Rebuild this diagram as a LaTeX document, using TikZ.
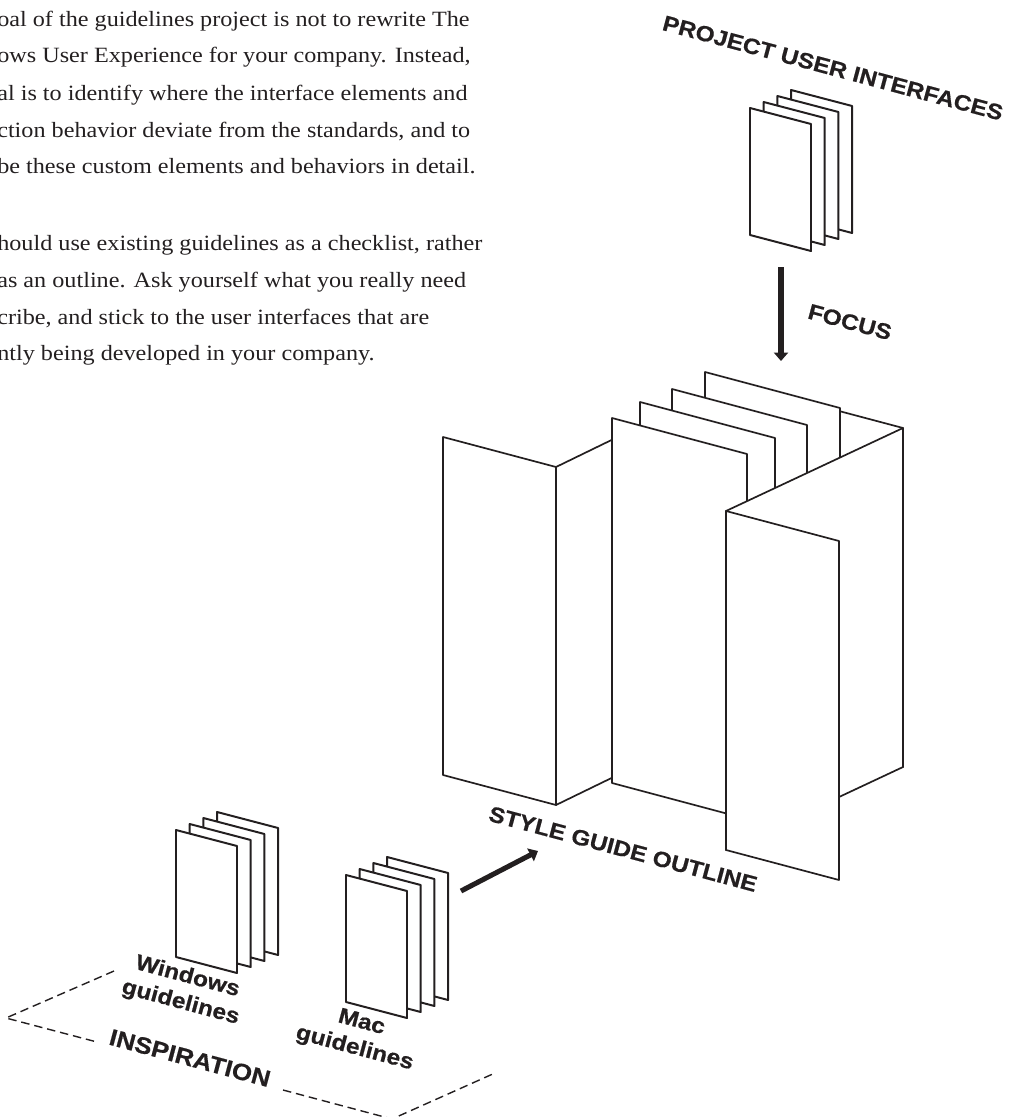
\documentclass[tikz,border=0pt]{standalone}
\usepackage{fontspec}
\setmainfont{Liberation Serif}[FakeStretch=1.11]
\newfontfamily\labelfont{Liberation Sans}[FakeStretch=1.12, BoldFeatures={FakeBold=0.6}]
\usetikzlibrary{arrows.meta}
\definecolor{ink}{HTML}{231F20}
\tikzset{
  sheet/.style={draw=ink, fill=white, line width=1.2pt},
  bodyline/.style={anchor=base west, inner sep=0pt, text=ink, font=\fontsize{15.5}{18}\selectfont},
  tag/.style={text=ink, font=\labelfont\bfseries\fontsize{15.5}{19}\selectfont, rotate=-15, align=center, inner sep=0pt},
  flow/.style={draw=ink, line width=3.6pt, -{Triangle[width=10pt,length=6pt]}},
  bracket/.style={draw=ink, line width=1pt, dash pattern=on 6pt off 3.5pt},
}
% four thin pages, back to front, front page top-left at #1,#2
\newcommand{\pagestack}[2]{%
  \foreach \k in {3,2,1,0}
    \draw[sheet, line width=1.4pt] ({#1+13.7*\k},{#2-6*\k}) -- ++(61,16) -- ++(0,127) -- ++(-61,-16) -- cycle;
}
\begin{document}
\begin{tikzpicture}[x=0.025cm, y=-0.025cm, line join=round]
  \useasboundingbox (0,0) rectangle (1016,1117);
  % Text column (cut off at the left)
  \node[bodyline] (line1) at (-3,27) {oal of the guidelines project is not to rewrite The};
  \node[bodyline] (line2) at (-3,63) {ows User Experience for your company. Instead,};
  \node[bodyline] (line3) at (-3,100) {al is to identify where the interface elements and};
  \node[bodyline] (line4) at (-3,137) {ction behavior deviate from the standards, and to};
  \node[bodyline] (line5) at (-3,173) {be these custom elements and behaviors in detail.};
  \node[bodyline] (line6) at (-3,250) {hould use existing guidelines as a checklist, rather};
  \node[bodyline] (line7) at (-3,287) {as an outline. Ask yourself what you really need};
  \node[bodyline] (line8) at (-3,324) {cribe, and stick to the user interfaces that are};
  \node[bodyline] (line9) at (-3,360) {ntly being developed in your company.};
  % Project user interfaces
  \pagestack{750}{108}
  \node[tag] (pui) at (833,68) {PROJECT USER INTERFACES};
  % Focus arrow
  \coordinate (puiOut) at (781,267);
  \coordinate (sgoTop) at (781,361);
  \draw[flow] (puiOut) -- (sgoTop);
  \node[tag] (focus) at (850,322) {FOCUS};
  % Style guide outline: left fold, back page, middle pages, right fold
  \draw[sheet] (443,437) -- (556,467) -- (556,805) -- (443,775) -- cycle;
  \draw[sheet] (556,467) -- (630,431) -- (630,769) -- (556,805) -- cycle;
  \draw[sheet] (790,398) -- (903,428) -- (903,767) -- (790,737) -- cycle;
  \foreach \sx/\sy in {705/372, 672/389, 640/402, 612/418}
    \draw[sheet] (\sx,\sy) -- ++(135,36) -- ++(0,365) -- ++(-135,-36) -- cycle;
  \draw[sheet] (726,511) -- (903,428) -- (903,767) -- (726,850) -- cycle;
  \draw[sheet] (726,511) -- (839,541) -- (839,880) -- (726,850) -- cycle;
  \node[tag] (sgo) at (623,849) {STYLE GUIDE OUTLINE};
  % Inspiration
  \pagestack{176}{830}
  \pagestack{346}{875}
  \node[tag] (win) at (184,990) {Windows\\guidelines};
  \node[tag] (mac) at (358,1036) {Mac\\guidelines};
  \coordinate (macOut) at (461,891);
  \coordinate (sgoIn) at (538,851);
  \draw[flow] (macOut) -- (sgoIn);
  % Dashed floor round the inspiration
  \coordinate (brTop) at (114,971);
  \coordinate (brLeft) at (6,1018);
  \coordinate (gapA) at (97,1042);
  \coordinate (gapB) at (283,1090);
  \coordinate (brLow) at (392,1119);
  \coordinate (brRight) at (495,1073);
  \draw[bracket] (brTop) -- (brLeft) -- (gapA);
  \draw[bracket] (gapB) -- (brLow) -- (brRight);
  \node[tag, font=\labelfont\bfseries\fontsize{16.5}{19}\selectfont] (insp) at (190,1058) {INSPIRATION};
\end{tikzpicture}
\end{document}
